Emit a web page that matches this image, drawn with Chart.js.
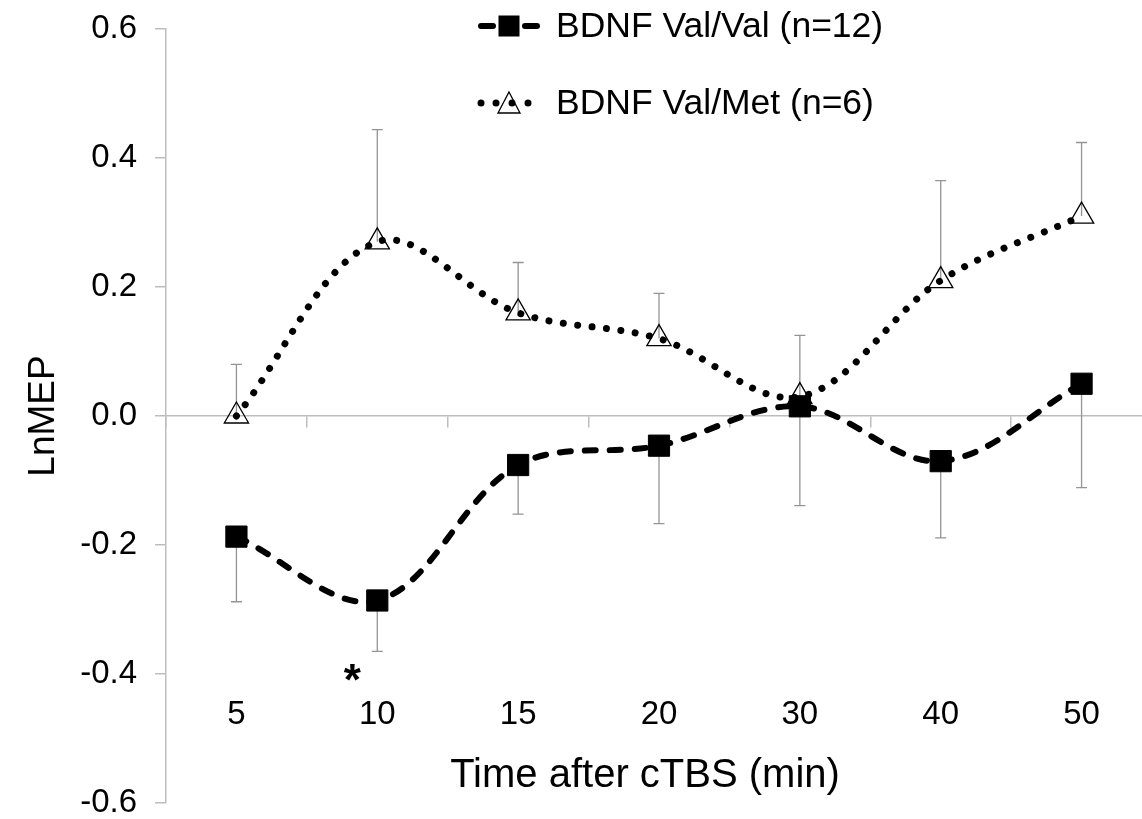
<!DOCTYPE html>
<html>
<head>
<meta charset="utf-8">
<script src="https://cdn.jsdelivr.net/npm/chart.js@4.4.0/dist/chart.umd.min.js"></script>
<style>
  html, body { margin: 0; padding: 0; background: #fff; overflow: hidden; }
  #wrap { width: 1168px; height: 819px; }
  canvas { display: block; }
</style>
</head>
<body>
<div id="wrap"><canvas id="chart" width="1168" height="819"></canvas></div>
<script>
// ---- data ----
const categories = ['5', '10', '15', '20', '30', '40', '50'];
const valValMeans  = [-0.187, -0.286, -0.076, -0.046, 0.015, -0.070, 0.050];
const valValErrors = [0.101, 0.079, 0.076, 0.121, 0.154, 0.119, 0.161];   // drawn downward
const valMetMeans  = [0.000, 0.270, 0.160, 0.120, 0.030, 0.210, 0.310];
const valMetErrors = [0.080, 0.174, 0.078, 0.070, 0.095, 0.155, 0.114];   // drawn upward
const yTicks = [-0.6, -0.4, -0.2, 0.0, 0.2, 0.4, 0.6];
const seriesNames = ['BDNF Val/Val (n=12)', 'BDNF Val/Met (n=6)'];
const xTitle = 'Time after cTBS (min)';
const yTitle = 'LnMEP';
const significantCategory = '10';
const significanceMark = '*';

const FONT = "'Liberation Sans', Arial, Helvetica, sans-serif";
const AXIS_GRAY = '#bdbdbd';
const ERR_GRAY = '#949494';

const errorBarPlugin = {
  id: 'errorBars',
  beforeDatasetsDraw(chart) {
    const ctx = chart.ctx;
    const y = chart.scales.y;
    ctx.save();
    ctx.strokeStyle = ERR_GRAY;
    ctx.lineWidth = 1.3;
    chart.data.datasets.forEach((ds, di) => {
      const meta = chart.getDatasetMeta(di);
      ds.data.forEach((v, i) => {
        const e = ds.errors[i];
        const x = meta.data[i].x;
        const y0 = y.getPixelForValue(v);
        const y1 = y.getPixelForValue(v + ds.errorDir * e);
        ctx.beginPath();
        ctx.moveTo(x, y0); ctx.lineTo(x, y1);
        ctx.moveTo(x - 5.5, y1); ctx.lineTo(x + 5.5, y1);
        ctx.stroke();
      });
    });
    ctx.restore();
  }
};

const annotationsPlugin = {
  id: 'annotations',
  afterDraw(chart) {
    const ctx = chart.ctx;
    const xs = chart.scales.x, ys = chart.scales.y;
    ctx.save();
    // significance asterisk
    const idx = categories.indexOf(significantCategory);
    ctx.fillStyle = '#000';
    ctx.font = 'bold 44px ' + FONT;
    ctx.textAlign = 'center';
    ctx.textBaseline = 'alphabetic';
    ctx.fillText(significanceMark, xs.getPixelForValue(idx) - 25, ys.getPixelForValue(-0.4) + 21);

    // x axis title
    ctx.font = '40px ' + FONT;
    ctx.textBaseline = 'middle';
    ctx.fillText(xTitle, 645, 776);

    // legend
    const ds = chart.data.datasets;
    const rows = [26, 103];
    const cx = 509;
    ds.forEach((d, k) => {
      const yy = rows[k];
      ctx.save();
      ctx.strokeStyle = '#000';
      ctx.lineCap = 'round';
      ctx.lineWidth = d.borderWidth;
      if (k === 0) {
        ctx.beginPath();
        ctx.moveTo(cx - 28, yy); ctx.lineTo(cx - 16, yy);
        ctx.moveTo(cx + 16, yy); ctx.lineTo(cx + 28, yy);
        ctx.stroke();
        ctx.fillStyle = '#000';
        ctx.fillRect(cx - 10.5, yy - 10.5, 21, 21);
      } else {
        ctx.fillStyle = '#000';
        [-28, -13, 3, 19].forEach(dx => {
          ctx.beginPath(); ctx.arc(cx + dx, yy, 3.5, 0, Math.PI * 2); ctx.fill();
        });
        ctx.lineWidth = 1.3;
        ctx.beginPath();
        ctx.moveTo(cx, yy - 11); ctx.lineTo(cx + 11, yy + 10); ctx.lineTo(cx - 11, yy + 10); ctx.closePath();
        ctx.stroke();
      }
      ctx.restore();
      ctx.fillStyle = '#000';
      ctx.font = '35.5px ' + FONT;
      ctx.textAlign = 'left';
      ctx.textBaseline = 'middle';
      ctx.fillText(d.label, 556, yy + 1);
    });
    ctx.restore();
  }
};

new Chart(document.getElementById('chart'), {
  type: 'line',
  data: {
    labels: categories,
    datasets: [
      {
        label: seriesNames[0],
        data: valValMeans,
        errors: valValErrors,
        errorDir: -1,
        borderColor: '#000',
        borderWidth: 6,
        borderDash: [11, 14],
        borderCapStyle: 'round',
        tension: 0.35,
        pointStyle: 'rect',
        pointRadius: 15,
        pointHoverRadius: 15,
        pointBackgroundColor: '#000',
        pointBorderColor: '#000',
        pointBorderWidth: 1,
        fill: false
      },
      {
        label: seriesNames[1],
        data: valMetMeans,
        errors: valMetErrors,
        errorDir: 1,
        borderColor: '#000',
        borderWidth: 7,
        borderDash: [0.01, 14.5],
        borderCapStyle: 'round',
        tension: 0.35,
        pointStyle: 'triangle',
        pointRadius: 14,
        pointHoverRadius: 14,
        pointBackgroundColor: 'rgba(0,0,0,0)',
        pointBorderColor: '#000',
        pointBorderWidth: 1.3,
        fill: false
      }
    ]
  },
  options: {
    responsive: false,
    animation: false,
    devicePixelRatio: 1,
    layout: { padding: { left: 0, top: 29, right: 1, bottom: 15 } },
    plugins: { legend: { display: false }, tooltip: { enabled: false } },
    scales: {
      y: {
        min: -0.6, max: 0.6,
        afterBuildTicks: s => { s.ticks = yTicks.map(v => ({ value: v })); },
        afterFit: s => { s.width = 166; s.paddingTop = 0; s.paddingBottom = 0; },
        ticks: {
          color: '#000',
          font: { family: FONT, size: 33 },
          padding: 18,
          callback: v => Number(v).toFixed(1)
        },
        grid: { drawOnChartArea: false, drawTicks: true, tickLength: 11, color: AXIS_GRAY, lineWidth: 1.5 },
        border: { color: AXIS_GRAY, width: 1.5 },
        title: { display: true, text: yTitle, color: '#000', font: { family: FONT, size: 37 }, padding: { top: 22, bottom: 0 } }
      },
      x: {
        type: 'category',
        position: { y: -0.4 },
        offset: true,
        afterFit: s => { s.paddingLeft = 0; s.paddingRight = 0; },
        ticks: { color: '#000', font: { family: FONT, size: 33 }, padding: 21, maxRotation: 0, autoSkip: false },
        grid: { display: false, drawTicks: false },
        border: { display: false }
      },
      x2: {
        type: 'category',
        position: { y: 0 },
        offset: true,
        afterFit: s => { s.paddingLeft = 0; s.paddingRight = 0; },
        ticks: { display: false },
        grid: { drawOnChartArea: false, drawTicks: true, tickLength: 11, offset: true, color: AXIS_GRAY, lineWidth: 1.5 },
        border: { color: AXIS_GRAY, width: 1.5 }
      }
    }
  },
  plugins: [errorBarPlugin, annotationsPlugin]
});
</script>
</body>
</html>
